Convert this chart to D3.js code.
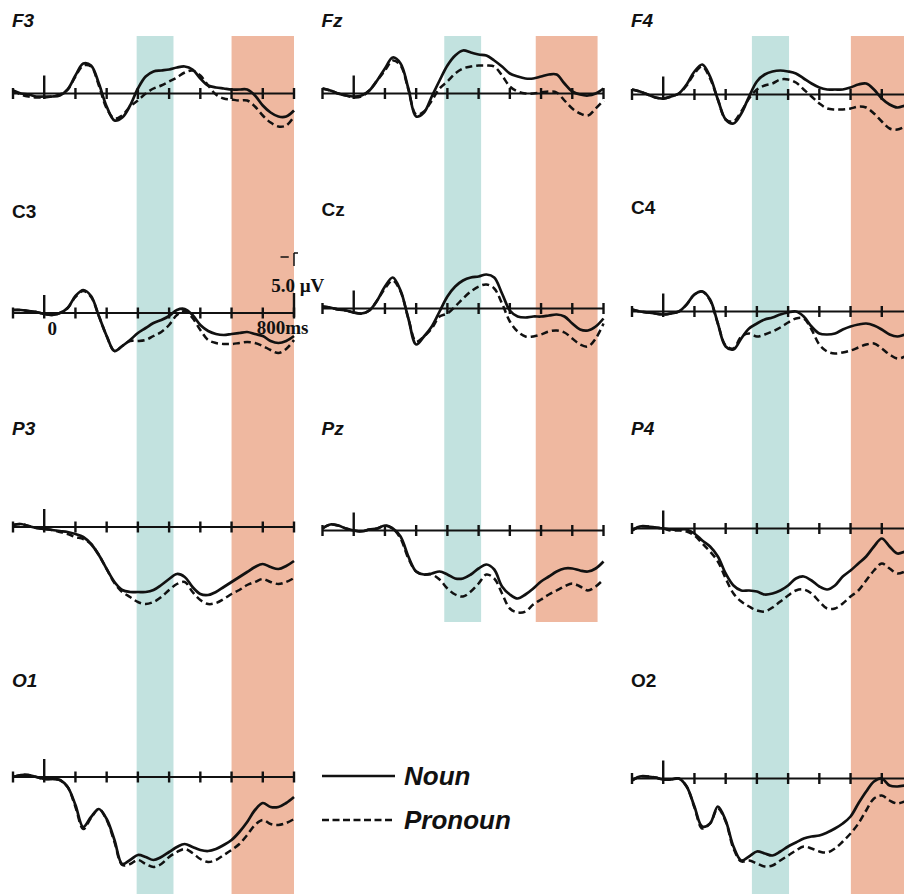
<!DOCTYPE html>
<html>
<head>
<meta charset="utf-8">
<script src="https://cdn.jsdelivr.net/npm/d3@7"></script>
<style>
  html, body { margin: 0; padding: 0; background: #fff; }
  svg { display: block; }
  .lbl { font-family: "Liberation Sans", Arial, sans-serif; font-weight: bold; font-size: 19px; fill: #111; }
  .lbl.it { font-style: italic; font-family: "Liberation Sans Narrow", "Liberation Sans", Arial, sans-serif; font-size: 19px; }
  .serif { font-family: "Liberation Serif", "Times New Roman", serif; font-weight: bold; font-size: 19px; fill: #111; }
  .legend { font-family: "Liberation Sans", Arial, sans-serif; font-weight: bold; font-style: italic; font-size: 26px; fill: #111; }
</style>
</head>
<body>
<div id="chart"></div>
<script>
// sampling times (ms) of the waveforms
const times = [-100, -75, -50, -25, 0, 25, 50, 75, 100, 125, 150, 175, 200, 225, 250, 275, 300,
  325, 350, 375, 400, 425, 450, 475, 500, 525, 550, 575, 600, 625, 650, 675, 700, 725, 750, 775, 800];

const tickMs = [-100, 0, 100, 200, 300, 400, 500, 600, 700, 800];
// analysis windows as drawn in each column (ms)
const windowsCol1 = [[296, 414], [600, 800]];
const windowsCol2 = [[290, 408], [583, 781]];
const windowsCol3 = [[284, 403], [601, 800]];
const electrodes = ['F3', 'Fz', 'F4', 'C3', 'Cz', 'C4', 'P3', 'Pz', 'P4', 'O1', 'O2'];
const conditions = ['Noun', 'Pronoun'];

// amplitudes in µV (negative plotted up)
const F3_noun = [-0.3,0,0.1,0.3,0.3,0.3,0.2,-0.4,-1.8,-3.0,-2.8,-1.0,1.3,2.7,2.4,1.2,-0.5,-1.7,-2.2,-2.3,-2.4,-2.6,-2.7,-2.4,-1.5,-0.8,-0.6,-0.5,-0.4,-0.4,-0.4,0.2,1.2,1.9,2.3,2.3,1.7];
const F3_pron = [-0.3,0.1,0.3,0.4,0.4,0.3,0.1,-0.4,-1.7,-2.8,-2.7,-0.8,1.5,2.5,2.2,1.3,0.7,0,-0.5,-0.8,-1.2,-1.6,-2.1,-2.3,-1.8,-0.8,0.1,0.5,0.6,0.7,0.7,1.3,2.2,2.9,3.3,3.2,2.3];
const Fz_noun = [-0.5,-0.3,0,0.2,0.3,0.2,-0.3,-1.3,-2.5,-3.6,-3.0,-0.5,2.3,1.9,0.3,-1.3,-2.8,-3.8,-4.3,-4.1,-3.9,-3.8,-3.3,-2.7,-2.0,-1.7,-1.5,-1.5,-1.7,-1.9,-1.9,-1.0,-0.2,0.1,0.2,0,-0.5];
const Fz_pron = [-0.5,-0.3,0,0.2,0.4,0.3,-0.3,-1.3,-2.3,-3.3,-2.8,-0.4,2.1,1.8,0.7,-0.5,-1.2,-2.0,-2.5,-2.7,-2.8,-2.8,-2.7,-1.8,-0.7,-0.2,0,0,-0.1,-0.2,-0.1,0.7,1.5,2.0,2.2,1.5,0.7];
const F4_noun = [-0.5,-0.3,0,0.3,0.4,0.2,-0.1,-1.0,-2.3,-3.0,-1.8,0.5,2.5,2.9,1.9,0.2,-1.3,-2.0,-2.3,-2.4,-2.3,-2.1,-1.6,-1.1,-0.7,-0.5,-0.5,-0.5,-0.7,-1.0,-1.1,-0.5,0.4,1.0,1.3,1.1,0.9];
const F4_pron = [-0.5,-0.3,0,0.3,0.4,0.2,-0.1,-0.9,-2.1,-2.8,-1.6,0.5,2.5,2.7,1.7,0.4,-0.5,-0.9,-1.1,-1.5,-1.5,-1.2,-0.5,0.2,0.9,1.4,1.5,1.5,1.4,1.2,1.3,1.9,2.7,3.4,3.5,3.2,2.9];
const C3_noun = [-0.3,-0.3,-0.2,-0.1,0.1,0.2,0,-0.5,-1.7,-2.3,-1.7,0.3,2.3,3.8,3.3,2.7,2.0,1.5,1.0,0.7,0.3,-0.3,-0.4,0.2,1.2,1.8,2.1,2.2,2.1,2.0,1.9,2.1,2.3,2.8,3.0,2.8,2.3];
const C3_pron = [-0.3,-0.3,-0.2,-0.1,0.1,0.2,0,-0.5,-1.6,-2.2,-1.6,0.3,2.3,3.8,3.3,2.8,2.8,2.7,2.3,1.9,1.2,0.2,-0.2,0.5,1.7,2.7,3.0,3.1,3.1,3.0,2.9,3.0,3.3,3.7,4.0,3.6,2.7];
const Cz_noun = [-0.2,-0.1,0.1,0.2,0.4,0.5,0.2,-0.8,-2.2,-3.1,-1.8,1.0,3.6,2.8,1.8,0.3,-1.2,-2.2,-2.8,-3.1,-3.2,-3.4,-3.1,-1.5,0.2,0.8,0.9,0.8,0.8,0.7,0.6,0.8,1.5,2.1,2.2,1.8,1.0];
const Cz_pron = [-0.2,-0.1,0.1,0.2,0.4,0.5,0.2,-0.8,-2.0,-2.8,-1.7,1.0,3.3,2.8,2.0,0.8,0.5,-0.2,-1.0,-1.7,-2.2,-2.4,-2.0,-0.5,1.3,2.3,2.8,2.8,2.6,2.3,2.2,2.4,3.0,3.6,3.8,3.0,1.5];
const C4_noun = [-0.2,0,0.1,0.2,0.3,0.2,0,-0.7,-1.7,-2.0,-1.2,1.2,3.5,3.8,2.7,1.7,1.2,0.8,0.6,0.3,0.1,0,0.5,1.5,2.2,2.3,2.2,1.8,1.5,1.3,1.2,1.4,1.8,2.3,2.5,2.3,2.2];
const C4_pron = [-0.2,0,0.1,0.2,0.3,0.2,0,-0.7,-1.7,-2.0,-1.1,1.2,3.4,3.7,2.5,2.2,2.5,2.3,2.0,1.6,1.1,0.7,0.7,1.8,3.3,4.0,4.2,4.1,3.9,3.6,3.3,3.2,3.7,4.3,4.7,4.5,4.2];
const P3_noun = [-0.2,-0.3,-0.1,0.1,0.2,0.3,0.4,0.5,0.7,1.0,1.7,2.8,4.2,5.5,6.3,6.5,6.5,6.5,6.3,5.8,5.2,4.7,5.0,6.0,6.7,6.8,6.5,6.0,5.5,5.0,4.5,4.0,3.7,4.0,4.2,3.9,3.4];
const P3_pron = [-0.2,-0.3,-0.1,0.1,0.2,0.3,0.5,0.7,1.0,1.2,1.7,2.8,4.2,5.6,6.5,7.0,7.5,7.7,7.5,7.0,6.3,5.7,5.5,6.5,7.3,7.7,7.6,7.2,6.7,6.3,5.8,5.5,5.2,5.5,5.7,5.5,5.1];
const Pz_noun = [-0.2,-0.6,-0.5,-0.2,0,0.1,-0.1,-0.2,-0.5,-0.2,0.6,2.6,4.1,4.4,4.3,4.1,4.4,4.8,4.8,4.4,3.8,3.4,3.9,5.6,6.4,6.8,6.4,5.8,5.1,4.6,4.1,3.8,3.8,4.0,4.1,3.8,3.1];
const Pz_pron = [-0.2,-0.6,-0.5,-0.2,0,0.1,-0.1,-0.2,-0.5,-0.2,0.8,2.8,4.1,4.4,4.4,4.9,5.8,6.4,6.6,6.1,5.3,4.4,4.8,6.3,7.8,8.2,8.1,7.4,6.9,6.4,6.0,5.6,5.3,5.6,6.0,5.6,4.9];
const P4_noun = [0.2,-0.2,-0.2,-0.1,0,0.1,0.1,0.1,0.5,1.2,1.8,2.8,4.5,5.7,6.2,6.2,6.3,6.6,6.5,6.2,5.7,5.0,4.8,5.2,5.8,6.1,5.7,4.8,4.2,3.5,2.8,1.8,1.0,1.8,2.5,2.3,2.0];
const P4_pron = [0.2,-0.2,-0.2,-0.1,0,0.2,0.2,0.3,0.7,1.5,2.3,3.3,5.0,6.5,7.3,7.8,8.2,8.3,7.9,7.3,6.7,6.2,6.1,6.5,7.3,8.0,8.0,7.5,6.8,6.2,5.2,4.2,3.5,4.0,4.5,4.3,4.0];
const O1_noun = [0,-0.2,-0.2,0,0.2,0.2,0.3,1.0,2.8,5.0,4.0,3.2,4.2,6.3,8.7,8.3,7.8,8.0,8.3,8.0,7.5,7.0,6.7,7.0,7.3,7.4,7.2,6.8,6.3,5.5,4.5,3.3,2.6,3.0,3.0,2.6,2.0];
const O1_pron = [0,-0.2,-0.2,0,0.2,0.2,0.3,1.0,3.0,5.2,4.1,3.2,4.3,6.5,8.8,8.7,8.3,8.7,9.0,8.7,8.0,7.5,7.2,7.6,8.2,8.5,8.3,7.8,7.3,6.7,5.8,4.8,4.3,4.7,4.8,4.6,4.2];
const O2_noun = [0.2,-0.2,-0.2,-0.1,0.1,0.1,0,0.8,2.8,4.8,4.5,2.8,4.2,6.8,8.2,7.8,7.3,7.5,7.7,7.3,6.8,6.4,6.0,5.8,5.7,5.4,5.0,4.5,3.8,2.5,1.3,0.3,0,0.7,0.8,0.7,0.5];
const O2_pron = [0.2,-0.2,-0.2,-0.1,0.1,0.1,0,0.8,2.9,5.0,4.5,3.0,4.3,7.0,8.3,8.2,8.5,8.8,8.7,8.2,7.7,7.2,6.8,7.0,7.3,7.4,7.0,6.3,5.5,4.5,3.2,2.0,1.7,2.2,2.5,2.3,2.2];

const series = {
  F3: [F3_noun, F3_pron], Fz: [Fz_noun, Fz_pron], F4: [F4_noun, F4_pron],
  C3: [C3_noun, C3_pron], Cz: [Cz_noun, Cz_pron], C4: [C4_noun, C4_pron],
  P3: [P3_noun, P3_pron], Pz: [Pz_noun, Pz_pron], P4: [P4_noun, P4_pron],
  O1: [O1_noun, O1_pron], O2: [O2_noun, O2_pron]
};

// layout of the panels (pixels)
const W = 904, H = 894;
const colX = [13, 322.5, 632];
const panelW = 281;
const pxPerUV = 10;
const panels = {
  F3: { col: 0, axisY: 93.5, labelY: 27, italic: true },
  Fz: { col: 1, axisY: 93.5, labelY: 27, italic: true },
  F4: { col: 2, axisY: 94.5, labelY: 27, italic: true },
  C3: { col: 0, axisY: 313, labelY: 218, italic: false },
  Cz: { col: 1, axisY: 308.5, labelY: 216, italic: false },
  C4: { col: 2, axisY: 311.5, labelY: 214, italic: false },
  P3: { col: 0, axisY: 527, labelY: 435, italic: true },
  Pz: { col: 1, axisY: 530.5, labelY: 435, italic: true },
  P4: { col: 2, axisY: 528.5, labelY: 435, italic: true },
  O1: { col: 0, axisY: 777, labelY: 687, italic: true },
  O2: { col: 2, axisY: 778.5, labelY: 687, italic: false }
};
const colWindows = [windowsCol1, windowsCol2, windowsCol3];
const bandTop = 36;
const bandBottom = [H, 622, H];
const bandColors = ['#c2e2df', '#efb8a0'];

const svg = d3.select('#chart').append('svg')
  .attr('width', W)
  .attr('height', H);

// highlighted time windows, drawn per column
colX.forEach((x0, c) => {
  const x = d3.scaleLinear().domain([-100, 800]).range([x0, x0 + panelW]);
  colWindows[c].forEach((w, i) => {
    svg.append('rect')
      .attr('x', x(w[0]))
      .attr('y', bandTop)
      .attr('width', x(w[1]) - x(w[0]))
      .attr('height', bandBottom[c] - bandTop)
      .attr('fill', bandColors[i]);
  });
});

const line = d3.line().curve(d3.curveCatmullRom.alpha(0.5));

electrodes.forEach(name => {
  const p = panels[name];
  const x0 = colX[p.col];
  const x = d3.scaleLinear().domain([-100, 800]).range([x0, x0 + panelW]);
  const y = d3.scaleLinear().domain([0, 1]).range([p.axisY, p.axisY + pxPerUV]);
  const g = svg.append('g');

  // label
  g.append('text')
    .attr('class', p.italic ? 'lbl it' : 'lbl')
    .attr('x', x0 - 1)
    .attr('y', p.labelY)
    .text(name);

  // time axis
  g.append('line')
    .attr('x1', x(-100)).attr('x2', x(800))
    .attr('y1', y(0)).attr('y2', y(0))
    .attr('stroke', '#111').attr('stroke-width', 2);

  g.selectAll('.tick')
    .data(tickMs)
    .enter()
    .append('line')
    .attr('x1', d => x(d)).attr('x2', d => x(d))
    .attr('y1', d => d === 0 ? y(-1.8) : y(-0.55))
    .attr('y2', d => y(0.55))
    .attr('stroke', '#111').attr('stroke-width', 2.4);

  // waveforms
  conditions.forEach((cond, i) => {
    const vals = series[name][i];
    g.append('path')
      .datum(times.map((t, k) => [x(t), y(vals[k])]))
      .attr('d', line)
      .attr('fill', 'none')
      .attr('stroke', '#111')
      .attr('stroke-width', i === 0 ? 2.7 : 2.5)
      .attr('stroke-dasharray', i === 0 ? null : '7,4');
  });

  // calibration marks on C3
  if (name === 'C3') {
    g.append('line')
      .attr('x1', x(800)).attr('x2', x(800))
      .attr('y1', y(-2)).attr('y2', y(0.4))
      .attr('stroke', '#111').attr('stroke-width', 2.4);
    g.append('line')
      .attr('x1', x(800)).attr('x2', x(800))
      .attr('y1', y(-6)).attr('y2', y(-4.7))
      .attr('stroke', '#111').attr('stroke-width', 1.5);
    g.append('line')
      .attr('x1', x(800)).attr('x2', x(800) + 4)
      .attr('y1', y(-6)).attr('y2', y(-6))
      .attr('stroke', '#111').attr('stroke-width', 1.5);
    g.append('line')
      .attr('x1', x(760) - 1).attr('x2', x(780) + 1)
      .attr('y1', y(-5.6)).attr('y2', y(-5.6))
      .attr('stroke', '#111').attr('stroke-width', 1.5);
    g.append('text').attr('class', 'serif')
      .attr('x', x(730) - 1).attr('y', y(-2.1))
      .text('5.0 \u00b5V');
    g.append('text').attr('class', 'serif')
      .attr('x', x(700) - 6).attr('y', y(2.1))
      .text('800ms');
    g.append('text').attr('class', 'serif')
      .attr('x', x(0) + 8).attr('y', y(2.2))
      .attr('text-anchor', 'middle')
      .text('0');
  }
});

// legend
const legendY = [776, 820];
conditions.forEach((cond, i) => {
  svg.append('line')
    .attr('x1', 322).attr('x2', 395)
    .attr('y1', legendY[i]).attr('y2', legendY[i])
    .attr('stroke', '#111')
    .attr('stroke-width', 2.3)
    .attr('stroke-dasharray', i === 0 ? null : '7,3.5');
  svg.append('text')
    .attr('class', 'legend')
    .attr('x', 404)
    .attr('y', legendY[i] + 9)
    .text(cond);
});
</script>
</body>
</html>
